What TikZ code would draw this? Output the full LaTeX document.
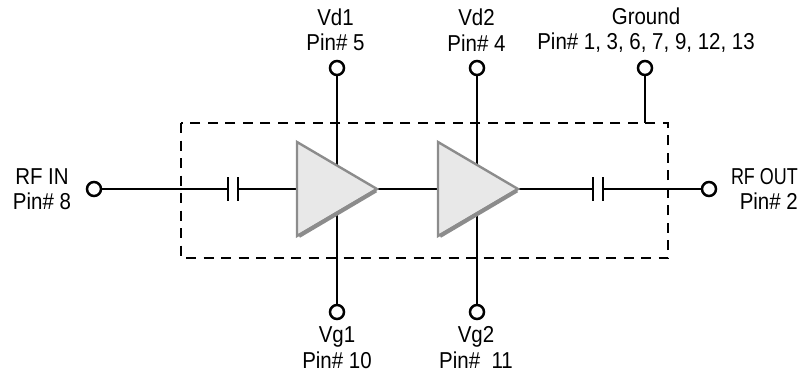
\documentclass[tikz,border=0pt]{standalone}
\usepackage{fontspec}
\setmainfont[FakeStretch=0.89]{Liberation Sans}
\newfontfamily\narrowcaps[FakeStretch=0.78]{Liberation Sans}
\definecolor{ampfill}{gray}{0.91}
\definecolor{ampedge}{gray}{0.55}
\tikzset{
  pin/.style={circle,draw=black,line width=2.5pt,fill=white,minimum size=14pt,inner sep=0pt},
  wire/.style={line width=2.5pt,black},
  lbl/.style={align=center,font=\fontsize{23}{25.5}\selectfont,inner sep=0pt},
  plate/.style={line width=2.5pt,black},
  amp/.style={fill=ampfill,draw=ampedge,line width=2.4pt,miter limit=10},
  ampshadow/.style={draw=ampedge,line width=4pt,line cap=butt},
}
\begin{document}
\begin{tikzpicture}[x=1pt,y=-1pt]
\useasboundingbox (0,0) rectangle (803,372);
% named points
\node[pin] (rfin) at (94,189) {};
\node[pin] (rfout) at (709,189) {};
\node[pin] (vd1) at (337,68) {};
\node[pin] (vd2) at (477,68) {};
\node[pin] (gnd) at (645,68) {};
\node[pin] (vg1) at (337,312) {};
\node[pin] (vg2) at (477,312) {};
\coordinate (c1l) at (228,189);
\coordinate (c1r) at (238,189);
\coordinate (c2l) at (593,189);
\coordinate (c2r) at (603,189);
\coordinate (a1l) at (297,189);
\coordinate (a1t) at (377,189);
\coordinate (a2l) at (438,189);
\coordinate (a2t) at (518,189);
\coordinate (gndb) at (645,123);
% dashed box
\draw[line width=2.7pt,dash pattern=on 10pt off 7.5pt] (181,123) rectangle (668,258);
% wires
\draw[wire] (rfin) -- (c1l);
\draw[wire] (c1r) -- (a1l);
\draw[wire] (a1t) -- (a2l);
\draw[wire] (a2t) -- (c2l);
\draw[wire] (c2r) -- (rfout);
\draw[wire] (vd1) -- (vg1);
\draw[wire] (vd2) -- (vg2);
\draw[wire] (gnd) -- (gndb);
% capacitors
\draw[plate] (228,177) -- (228,201);
\draw[plate] (238,177) -- (238,201);
\draw[plate] (593,177) -- (593,201);
\draw[plate] (603,177) -- (603,201);
% amplifiers
\draw[amp] (297,142) -- (377,189) -- (297,236) -- cycle;
\draw[ampshadow] (376,190.5) -- (299,236);
\draw[amp] (438,142) -- (518,189) -- (438,236) -- cycle;
\draw[ampshadow] (517,190.5) -- (440,236);
% labels
\node[lbl] (lvd1) at (335.5,30) {Vd1\\Pin\# 5};
\node[lbl] (lvd2) at (476.5,30) {Vd2\\Pin\# 4};
\node[lbl] (lgnd) at (646,30) {Ground\hspace{6pt}\\Pin\# 1, 3, 6, 7, 9, 12, 13};
\node[lbl] (lvg1) at (337,347.5) {Vg1\\Pin\# 10};
\node[lbl] (lvg2) at (476,347.5) {Vg2\\Pin\#\ \ 11};
\node[lbl] (lin) at (42,189) {RF IN\\Pin\# 8};
\node[lbl,align=right,anchor=east] (lout) at (798,189) {{\narrowcaps RF OUT}\\Pin\# 2};
\end{tikzpicture}
\end{document}
